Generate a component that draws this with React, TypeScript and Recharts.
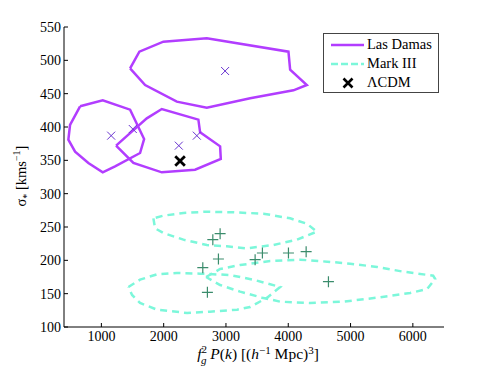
import { ScatterChart, Scatter, XAxis, YAxis, Legend } from "recharts";

// Las Damas 1-sigma contours (closed outlines)
const ldUpper = [
  { x: 1461, y: 488 }, { x: 1610, y: 513 }, { x: 1995, y: 528 }, { x: 2692, y: 533 },
  { x: 4003, y: 513 }, { x: 4030, y: 486 }, { x: 4298, y: 463 }, { x: 4083, y: 455 },
  { x: 3388, y: 443 }, { x: 2692, y: 429 }, { x: 2211, y: 438 }, { x: 1702, y: 463 },
];
const ldLeft = [
  { x: 658, y: 431 }, { x: 1022, y: 440 }, { x: 1461, y: 426 }, { x: 1686, y: 382 },
  { x: 1621, y: 361 }, { x: 1220, y: 341 }, { x: 1022, y: 332 }, { x: 791, y: 346 },
  { x: 578, y: 363 }, { x: 470, y: 381 }, { x: 497, y: 403 },
];
const ldMiddle = [
  { x: 1236, y: 372 }, { x: 1488, y: 393 }, { x: 1729, y: 413 }, { x: 1970, y: 427 },
  { x: 2557, y: 411 }, { x: 2585, y: 392 }, { x: 2906, y: 371 }, { x: 2917, y: 352 },
  { x: 2504, y: 336 }, { x: 1970, y: 332 }, { x: 1514, y: 346 },
];

// Mark III contours (dashed)
const m3Upper = [
  { x: 1835, y: 263 }, { x: 1862, y: 248 }, { x: 1995, y: 241 }, { x: 2317, y: 231 },
  { x: 2692, y: 223 }, { x: 3013, y: 221 }, { x: 3335, y: 218 }, { x: 3762, y: 223 },
  { x: 4137, y: 231 }, { x: 4459, y: 243 }, { x: 4298, y: 255 }, { x: 4030, y: 263 },
  { x: 3601, y: 270 }, { x: 3119, y: 272 }, { x: 2692, y: 273 }, { x: 2317, y: 271 },
  { x: 1995, y: 267 },
];
const m3Lower = [
  { x: 1434, y: 160 }, { x: 1621, y: 171 }, { x: 1890, y: 179 }, { x: 2211, y: 181 },
  { x: 2585, y: 180 }, { x: 3066, y: 178 }, { x: 3436, y: 171 }, { x: 3870, y: 160 },
  { x: 3661, y: 144 }, { x: 3388, y: 130 }, { x: 3179, y: 126 }, { x: 2745, y: 123 },
  { x: 2376, y: 121 }, { x: 1894, y: 126 }, { x: 1621, y: 136 }, { x: 1493, y: 148 },
];
const m3Right = [
  { x: 2681, y: 175 }, { x: 2906, y: 187 }, { x: 3227, y: 193 }, { x: 3709, y: 199 },
  { x: 4190, y: 201 }, { x: 4624, y: 198 }, { x: 4993, y: 195 }, { x: 5427, y: 190 },
  { x: 5844, y: 183 }, { x: 6326, y: 177 }, { x: 6358, y: 172 }, { x: 6230, y: 157 },
  { x: 5957, y: 151 }, { x: 5427, y: 144 }, { x: 4881, y: 138 }, { x: 4351, y: 136 },
  { x: 3870, y: 138 }, { x: 3581, y: 144 }, { x: 3227, y: 153 }, { x: 2906, y: 163 },
];

// best-fit points
const ldPoints = [
  { x: 1157, y: 387 }, { x: 1504, y: 397 }, { x: 2243, y: 372 }, { x: 2532, y: 387 }, { x: 2986, y: 484 },
];
const m3Points = [
  { x: 2906, y: 240 }, { x: 2789, y: 231 }, { x: 2879, y: 202 }, { x: 2628, y: 189 },
  { x: 3585, y: 211 }, { x: 3468, y: 201 }, { x: 4003, y: 211 }, { x: 4287, y: 213 },
  { x: 2702, y: 152 }, { x: 4645, y: 168 },
];
const lcdm = [{ x: 2263, y: 349 }];

const xTicks = [1000, 2000, 3000, 4000, 5000, 6000];
const yTicks = [100, 150, 200, 250, 300, 350, 400, 450, 500, 550];

const PURPLE = "#b23dff";
const AQUA = "#7cf7da";
const FONT = "'Liberation Serif', 'DejaVu Serif', serif";

const close = (pts: { x: number; y: number }[]) => [...pts, pts[0]];

const noShape = () => <g />;

const XMark = (props: any) => {
  const { cx, cy } = props;
  const r = 4;
  return (
    <path
      d={`M${cx - r},${cy - r}L${cx + r},${cy + r}M${cx - r},${cy + r}L${cx + r},${cy - r}`}
      stroke="#6a35d0"
      strokeWidth={1}
      fill="none"
    />
  );
};

const BigX = (props: any) => {
  const { cx, cy } = props;
  const r = 4.8;
  return (
    <path
      d={`M${cx - r},${cy - r}L${cx + r},${cy + r}M${cx - r},${cy + r}L${cx + r},${cy - r}`}
      stroke="#000"
      strokeWidth={2.8}
      fill="none"
    />
  );
};

const Plus = (props: any) => {
  const { cx, cy } = props;
  const r = 5.5;
  return (
    <path
      d={`M${cx - r},${cy}L${cx + r},${cy}M${cx},${cy - r}L${cx},${cy + r}`}
      stroke="#3b8c6c"
      strokeWidth={1.2}
      fill="none"
    />
  );
};

const BottomTick = (props: any) => {
  const { x, y, payload } = props;
  return (
    <g>
      <line x1={x} y1={y} x2={x} y2={y - 4} stroke="#000" />
      <text x={x} y={y + 14} textAnchor="middle" fontSize={14} fontFamily={FONT} fill="#000">
        {payload.value}
      </text>
    </g>
  );
};

const LeftTick = (props: any) => {
  const { x, y, payload } = props;
  return (
    <g>
      <line x1={x} y1={y} x2={x + 4} y2={y} stroke="#000" />
      <text x={x - 3} y={y + 5} textAnchor="end" fontSize={14} fontFamily={FONT} fill="#000">
        {payload.value}
      </text>
    </g>
  );
};

const TopTick = (props: any) => {
  const { x, y } = props;
  return <line x1={x} y1={y} x2={x} y2={y + 4} stroke="#555" />;
};

const RightTick = (props: any) => {
  const { x, y } = props;
  return <line x1={x} y1={y} x2={x - 4} y2={y} stroke="#555" />;
};

const XLabel = () => {
  const cx = 250;
  const y = 351;
  return (
    <text x={cx} y={y} textAnchor="middle" fontSize={15.5} fontFamily={FONT} fill="#000">
      <tspan fontStyle="italic">f</tspan>
      <tspan fontSize={11} dy={-6}>2</tspan>
      <tspan fontSize={11} fontStyle="italic" dx={-6} dy={11}>g</tspan>
      <tspan dy={-5}> </tspan>
      <tspan fontStyle="italic">P</tspan>
      <tspan>(</tspan>
      <tspan fontStyle="italic">k</tspan>
      <tspan>) [(</tspan>
      <tspan fontStyle="italic">h</tspan>
      <tspan fontSize={11} dy={-5}>−1</tspan>
      <tspan dy={5}> Mpc)</tspan>
      <tspan fontSize={11} dy={-5}>3</tspan>
      <tspan dy={5}>]</tspan>
    </text>
  );
};

const YLabel = () => {
  const x = 18;
  const cy = 168;
  return (
    <text
      x={x}
      y={cy}
      transform={`rotate(-90, ${x}, ${cy})`}
      textAnchor="middle"
      fontSize={14.5}
      fontFamily={FONT}
      fill="#000"
    >
      <tspan>σ</tspan>
      <tspan fontSize={10} dy={4}>*</tspan>
      <tspan dy={-4}>  [kms</tspan>
      <tspan fontSize={10} dy={-6}>−1</tspan>
      <tspan dy={6}>]</tspan>
    </text>
  );
};

const row = { display: "flex", alignItems: "center", whiteSpace: "nowrap" as const, height: 19 };

const LegendBox = () => (
  <div
    style={{
      width: 116,
      height: 60,
      border: "1px solid #444",
      background: "#fff",
      fontFamily: FONT,
      fontSize: 14.5,
      lineHeight: "19px",
      boxSizing: "border-box",
      paddingTop: 1,
      textAlign: "left",
    }}
  >
    <div style={row}>
      <svg width={43} height={19} style={{ flex: "none" }}>
        <line x1={7} y1={10} x2={40} y2={10} stroke={PURPLE} strokeWidth={2.5} />
      </svg>
      <span>Las Damas</span>
    </div>
    <div style={row}>
      <svg width={43} height={19} style={{ flex: "none" }}>
        <line x1={7} y1={10} x2={40} y2={10} stroke={AQUA} strokeWidth={2.5} strokeDasharray="7 3" />
      </svg>
      <span>Mark III</span>
    </div>
    <div style={row}>
      <svg width={43} height={19} style={{ flex: "none" }}>
        <path d="M19.5,5.5L28.5,14.5M19.5,14.5L28.5,5.5" stroke="#000" strokeWidth={2.6} />
      </svg>
      <span>ΛCDM</span>
    </div>
  </div>
);

export default function App() {
  return (
    <ScatterChart width={483} height={361} margin={{ top: 19, right: 47, bottom: 0, left: 0 }}>
      <XAxis
        xAxisId="b"
        type="number"
        dataKey="x"
        domain={[400, 6500]}
        ticks={xTicks}
        orientation="bottom"
        height={42}
        tickSize={0}
        tickMargin={0}
        tick={<BottomTick />}
        tickLine={false}
        axisLine={{ stroke: "#000" }}
        allowDataOverflow
        label={<XLabel />}
      />
      <XAxis
        xAxisId="t"
        type="number"
        dataKey="x"
        domain={[400, 6500]}
        ticks={xTicks}
        orientation="top"
        height={0}
        tickSize={0}
        tickMargin={0}
        tick={<TopTick />}
        tickLine={false}
        axisLine={{ stroke: "#555" }}
        allowDataOverflow
      />
      <YAxis
        yAxisId="l"
        type="number"
        dataKey="y"
        domain={[100, 550]}
        ticks={yTicks}
        orientation="left"
        width={56}
        tickSize={0}
        tickMargin={0}
        tick={<LeftTick />}
        tickLine={false}
        axisLine={{ stroke: "#000" }}
        allowDataOverflow
        label={<YLabel />}
      />
      <YAxis
        yAxisId="r"
        type="number"
        dataKey="y"
        domain={[100, 550]}
        ticks={yTicks}
        orientation="right"
        width={0}
        tickSize={0}
        tickMargin={0}
        tick={<RightTick />}
        tickLine={false}
        axisLine={{ stroke: "#555" }}
        allowDataOverflow
      />
      <Legend
        layout="horizontal"
        align="center"
        verticalAlign="middle"
        content={<LegendBox />}
        wrapperStyle={{ position: "absolute", left: 315, top: 25, width: 116, height: 60 }}
      />
      {[m3Upper, m3Lower, m3Right].map((c, i) => (
        <Scatter
          key={"m3" + i}
          xAxisId="b"
          yAxisId="l"
          data={close(c)}
          line={{ stroke: AQUA, strokeWidth: 2.5, strokeDasharray: "7 5" }}
          lineType="joint"
          shape={noShape}
          isAnimationActive={false}
        />
      ))}
      {[ldUpper, ldLeft, ldMiddle].map((c, i) => (
        <Scatter
          key={"ld" + i}
          xAxisId="b"
          yAxisId="l"
          data={close(c)}
          line={{ stroke: PURPLE, strokeWidth: 2.5 }}
          lineType="joint"
          shape={noShape}
          isAnimationActive={false}
        />
      ))}
      <Scatter xAxisId="b" yAxisId="l" data={ldPoints} shape={<XMark />} isAnimationActive={false} />
      <Scatter xAxisId="b" yAxisId="l" data={m3Points} shape={<Plus />} isAnimationActive={false} />
      <Scatter xAxisId="b" yAxisId="l" data={lcdm} shape={<BigX />} isAnimationActive={false} />
    </ScatterChart>
  );
}
